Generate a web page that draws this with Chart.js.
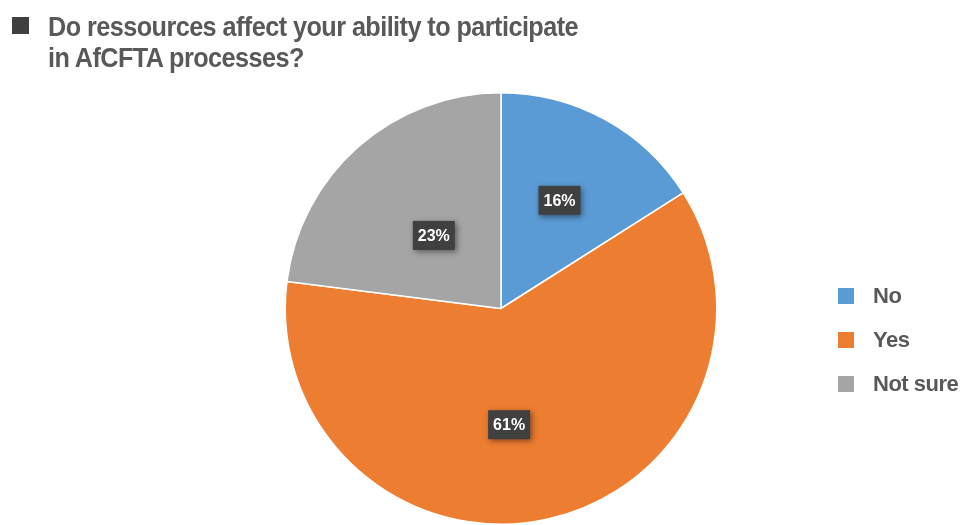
<!DOCTYPE html>
<html>
<head>
<meta charset="utf-8">
<script src="https://cdn.jsdelivr.net/npm/chart.js@4.4.1/dist/chart.umd.min.js"></script>
<style>
  html, body { margin: 0; padding: 0; background: #fff; }
  #wrap { position: relative; width: 965px; height: 525px; overflow: hidden; font-family: "Liberation Sans", Arial, sans-serif; }
  #pie { position: absolute; left: 0; top: 0; }
  #title { position: absolute; left: 48px; top: 12px; font-size: 27px; font-weight: bold; color: #595959; line-height: 31px; letter-spacing: -0.6px; white-space: nowrap; transform-origin: 0 0; }
  #mark { position: absolute; left: 12px; top: 17px; width: 17px; height: 17px; background: #404040; }
  #legend { position: absolute; left: 838px; top: 283px; }
  .item { height: 44px; display: flex; align-items: flex-start; font-size: 22px; line-height: 26px; font-weight: bold; color: #595959; letter-spacing: -0.5px; }
  .sw { width: 16px; height: 16px; margin: 5px 19px 0 0; }
</style>
</head>
<body>
<div id="wrap">
  <canvas id="pie" width="965" height="525"></canvas>
  <div id="mark"></div>
  <div id="title"><span id="t1">Do ressources affect your ability to participate</span><br>in AfCFTA processes?</div>
  <div id="legend"></div>
</div>
<script>
const categories = ['No', 'Yes', 'Not sure'];
const shares = [16, 61, 23];
const colors = ['#5B9BD5', '#ED7D31', '#A5A5A5'];

// label box placement per slice: [angle from top in degrees, fraction of radius]
const labelSpots = [[28.4, 0.57], [176, 0.54], [-42.6, 0.46]];

const boxLabels = {
    id: 'boxLabels',
    afterDatasetsDraw(chart) {
        const ctx = chart.ctx;
        const arcs = chart.getDatasetMeta(0).data;
        arcs.forEach((arc, i) => {
            const [deg, f] = labelSpots[i];
            const a = deg * Math.PI / 180;
            const x = arc.x + Math.sin(a) * arc.outerRadius * f;
            const y = arc.y - Math.cos(a) * arc.outerRadius * f;
            const w = 42, h = 29;
            ctx.save();
            ctx.shadowColor = 'rgba(0,0,0,0.45)';
            ctx.shadowBlur = 6;
            ctx.shadowOffsetX = 2;
            ctx.shadowOffsetY = 2;
            ctx.fillStyle = '#404040';
            ctx.fillRect(x - w / 2, y - h / 2, w, h);
            ctx.restore();
            ctx.save();
            ctx.fillStyle = '#ffffff';
            ctx.font = 'bold 16px "Liberation Sans", Arial, sans-serif';
            ctx.textAlign = 'center';
            ctx.textBaseline = 'middle';
            ctx.fillText(shares[i] + '%', x, y + 1);
            ctx.restore();
        });
    }
};

new Chart(document.getElementById('pie'), {
    type: 'pie',
    data: {
        labels: categories,
        datasets: [{ data: shares, backgroundColor: colors, borderColor: '#ffffff', borderWidth: 1.5 }]
    },
    options: {
        responsive: false,
        animation: false,
        layout: { padding: { top: 92, bottom: 0, left: 284, right: 247 } },
        plugins: { legend: { display: false }, tooltip: { enabled: false } }
    },
    plugins: [boxLabels]
});

// squeeze the title to the narrow width of the original
const t1 = document.getElementById('t1');
const sx = 530 / t1.getBoundingClientRect().width;
document.getElementById('title').style.transform = 'scaleX(' + sx + ')';

const legend = document.getElementById('legend');
categories.forEach((c, i) => {
    const row = document.createElement('div');
    row.className = 'item';
    row.innerHTML = '<div class="sw" style="background:' + colors[i] + '"></div><span>' + c + '</span>';
    legend.appendChild(row);
});
</script>
</body>
</html>
